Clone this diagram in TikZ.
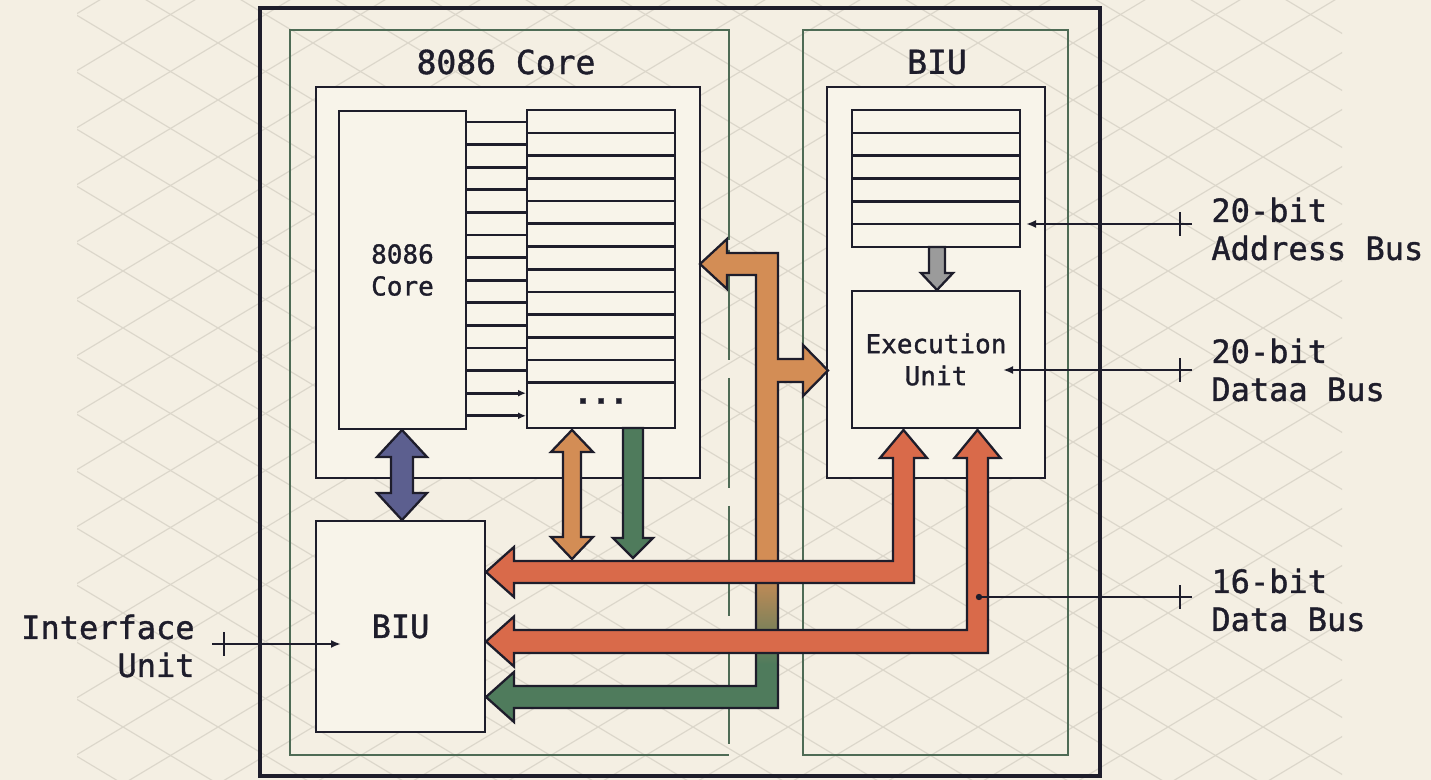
\documentclass[tikz,border=0pt]{standalone}
\usepackage{fontspec}
\setmainfont[FakeBold=1.2]{DejaVu Sans Mono}
\usetikzlibrary{arrows.meta}
\definecolor{bg}{HTML}{F4EFE3}
\definecolor{boxfill}{HTML}{F8F4EA}
\definecolor{ink}{HTML}{1E1D2B}
\definecolor{gline}{HTML}{4E6B55}
\definecolor{latc}{HTML}{DCD7CB}
\definecolor{borange}{HTML}{D38D55}
\definecolor{bred}{HTML}{D96A4A}
\definecolor{bgreen}{HTML}{4F7B5C}
\definecolor{bblue}{HTML}{5C5F8F}
\definecolor{bgrey}{HTML}{9B9B9B}
\pgfdeclareverticalshading{orgr}{100bp}{color(0bp)=(bgreen); color(31bp)=(bgreen); color(41bp)=(borange); color(100bp)=(borange)}
\tikzset{
 latline/.style={draw=latc, line width=0.6pt},
 gbox/.style={draw=gline, line width=0.8pt},
 cont/.style={draw=ink, fill=boxfill, line width=1.4pt, inner sep=0pt},
 ibox/.style={draw=ink, fill=boxfill, line width=1.3pt, inner sep=0pt, align=center, font=\fontsize{13}{16}\selectfont, text=ink},
 rline/.style={draw=ink, line width=1.35pt},
 fat/.style={draw=ink, line width=1.15pt, line join=miter},
 busline/.style={draw=ink, line width=1.05pt},
 lbl/.style={font=\fontsize{16}{19}\selectfont, inner sep=0pt, text=ink},
 ttl/.style={font=\fontsize{16.5}{20}\selectfont, inner sep=0pt, text=ink},
}
\begin{document}
\begin{tikzpicture}[x=0.5pt,y=-0.5pt]
\fill[bg] (0,0) rectangle (1431,780);
\useasboundingbox (0,0) rectangle (1431,780);
% lattice
\begin{scope}
\clip (77,0) rectangle (1342,780);
\foreach \k in {-15,...,13} \draw[latline] (0,{26.2+57*\k}) -- (1431,{26.2+57*\k+858.6});
\foreach \k in {-3,...,25} \draw[latline] (0,{173.8+57*\k}) -- (1431,{173.8+57*\k-858.6});
\end{scope}
% outer and green boxes
\node[draw=ink, line width=1.7pt, minimum width=420pt, minimum height=384pt, inner sep=0pt] (outer) at (680,392) {};
\draw[gbox] (729,240) -- (729,30) -- (290,30) -- (290,755) -- (729,755);
\draw[gbox, dash pattern=on 55pt off 9pt] (729,250) -- (729,755);
\node[gbox, minimum width=132.5pt, minimum height=362.5pt, inner sep=0pt] (greenR) at (935.5,392.5) {};
% titles
\node[ttl] (ttlcore) at (506,62) {8086 Core};
\node[ttl] (ttlbiu) at (937,62) {BIU};
% containers
\node[cont, minimum width=192pt, minimum height=195.5pt] (corecont) at (508,282.5) {};
\node[cont, minimum width=109pt, minimum height=195.5pt] (biucont) at (936,282.5) {};
% inner boxes
\node[ibox, minimum width=63.5pt, minimum height=159pt] (core) at (402.5,270) {8086\\Core};
\node[ibox, minimum width=74pt, minimum height=159pt] (reg) at (601,269) {};
\node[ibox, minimum width=84pt, minimum height=68.5pt] (biureg) at (936,178.5) {};
\node[ibox, minimum width=84pt, minimum height=68.5pt] (eu) at (936,359.5) {Execution\\Unit};
\node[ibox, minimum width=84.5pt, minimum height=105.5pt, font=\fontsize{16}{19}\selectfont] (biu) at (400.5,626.5) {BIU};
\node[font=\bfseries\fontsize{15}{18}\selectfont, inner sep=0pt, text=ink] (dots) at (601,401) {...};
% register rows
\foreach \i in {0,...,11} \draw[rline] (527,{133+22.7*\i}) -- (675,{133+22.7*\i});
\foreach \i in {0,...,4} \draw[rline] (852,{133+22.75*\i}) -- (1020,{133+22.75*\i});
% core -> register connectors
\foreach \i in {0,...,13} {
  \coordinate (ca\i) at (466,{122+22.6*\i});
  \coordinate (cb\i) at (526,{122+22.6*\i});
}
\foreach \i in {0,...,11} \draw[rline] (ca\i) -- (cb\i);
\foreach \i in {12,13} \draw[rline, -{Latex[length=4pt,width=3.5pt]}] (ca\i) -- (cb\i);
% fat arrows
\filldraw[fat, fill=bblue] (402,430) -- (427,457) -- (413,457) -- (413,493) -- (427,493) -- (402,520) -- (377,493) -- (391,493) -- (391,457) -- (377,457) -- cycle;
\filldraw[fat, fill=borange] (572,430) -- (593,452) -- (581,452) -- (581,537) -- (593,537) -- (572,559) -- (551,537) -- (563,537) -- (563,452) -- (551,452) -- cycle;
\filldraw[fat, fill=bgreen] (623,428) -- (643,428) -- (643,538) -- (653,538) -- (633,558) -- (613,538) -- (623,538) -- cycle;
\filldraw[fat, fill=bgrey] (929,247) -- (945,247) -- (945,273) -- (953,273) -- (937,290) -- (921,273) -- (929,273) -- cycle;
\shadedraw[fat, shading=orgr] (700,264) -- (727,239) -- (727,253) -- (778,253) -- (778,359) -- (803,359) -- (803,345) -- (828,370.5) -- (803,396) -- (803,382) -- (778,382) -- (778,708) -- (514,708) -- (514,722) -- (486,697) -- (514,672) -- (514,686) -- (756,686) -- (756,275) -- (727,275) -- (727,289) -- cycle;
\filldraw[fat, fill=bred] (486,572) -- (514,547) -- (514,561) -- (893,561) -- (893,458) -- (880,458) -- (903.5,430) -- (927,458) -- (914,458) -- (914,583) -- (514,583) -- (514,597) -- cycle;
\filldraw[fat, fill=bred] (486,641.5) -- (514,616.5) -- (514,630) -- (967,630) -- (967,458) -- (954.5,458) -- (977.5,430) -- (1000.5,458) -- (988,458) -- (988,653) -- (514,653) -- (514,666.5) -- cycle;
% bus connectors
\coordinate (adrS) at (1192,224); \coordinate (adrT) at (1180,224); \coordinate (adrE) at (1026,224);
\coordinate (datS) at (1192,370); \coordinate (datT) at (1180,370); \coordinate (datE) at (1003,370);
\coordinate (d16S) at (1192,597); \coordinate (d16T) at (1180,597); \coordinate (d16E) at (979,597);
\coordinate (ifS) at (212,644); \coordinate (ifT) at (224,644); \coordinate (ifE) at (341,644);
\draw[busline, -{Latex[length=5pt,width=4pt]}] (adrS) -- (adrE);
\draw[busline, -{Latex[length=5pt,width=4pt]}] (datS) -- (datE);
\draw[busline] (d16S) -- (d16E);
\fill[ink] (d16E) circle[radius=1.6pt];
\draw[busline, -{Latex[length=5pt,width=4pt]}] (ifS) -- (ifE);
\foreach \t in {adrT,datT,d16T,ifT} \draw[busline] ([yshift=-6pt]\t) -- ([yshift=6pt]\t);
% labels
\node[lbl, anchor=west, align=left] (lbladr) at (1211,229) {20-bit\\Address Bus};
\node[lbl, anchor=west, align=left] (lbldat) at (1211,370) {20-bit\\Dataa Bus};
\node[lbl, anchor=west, align=left] (lbl16) at (1211,600) {16-bit\\Data Bus};
\node[lbl, anchor=east, align=right] (lblif) at (195,646) {Interface\\Unit};
\end{tikzpicture}
\end{document}
